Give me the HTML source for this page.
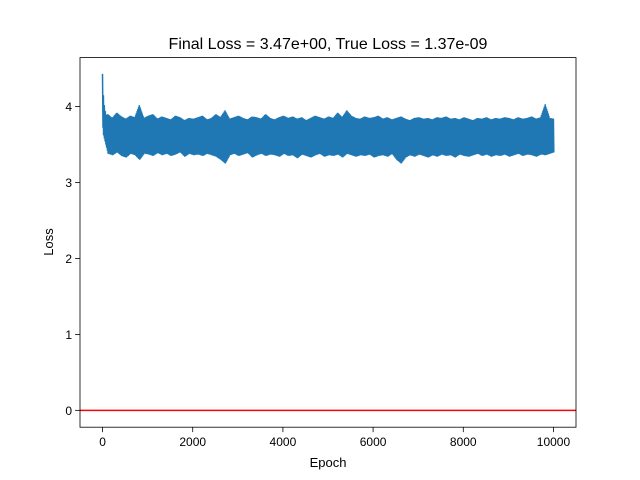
<!DOCTYPE html>
<html><head><meta charset="utf-8"><style>
body{margin:0;background:#fff;}
svg{display:block;font-family:"Liberation Sans","DejaVu Sans",sans-serif;}
</style></head><body>
<svg id="chart" width="640" height="480">
<rect width="640" height="480" fill="#fff"/>
<text x="328" y="49" font-size="16" text-anchor="middle">Final Loss = 3.47e+00, True Loss = 1.37e-09</text>
<g id="plot"></g>
<rect x="80" y="57.6" width="496" height="369.6" fill="none" stroke="#000" stroke-width="0.8"/>
<g id="axes"></g>
<text x="328" y="467" font-size="13" text-anchor="middle">Epoch</text>
<text transform="translate(53,242) rotate(-90)" font-size="13" text-anchor="middle">Loss</text>
</svg>
<script>
const startValues = [4.43, 3.72, 4.15, 3.62, 4.02, 3.58, 3.92];
const highs = [3.88,3.9,3.85,3.92,3.87,3.84,3.88,3.86,4.02,3.85,3.88,3.9,3.84,3.87,3.85,3.83,3.88,3.86,3.82,3.85,3.84,3.86,3.88,3.83,3.85,3.9,3.86,3.95,3.84,3.86,3.88,3.85,3.83,3.87,3.86,3.84,3.9,3.85,3.83,3.86,3.88,3.85,3.87,3.84,3.86,3.82,3.85,3.88,3.86,3.84,3.87,3.85,3.92,3.86,3.95,3.88,3.85,3.84,3.87,3.85,3.86,3.88,3.84,3.86,3.83,3.85,3.87,3.84,3.82,3.85,3.86,3.84,3.85,3.83,3.86,3.85,3.87,3.84,3.85,3.83,3.86,3.84,3.82,3.85,3.84,3.86,3.83,3.85,3.84,3.86,3.85,3.83,3.86,3.84,3.85,3.87,3.84,3.86,4.03,3.85,3.84];
const lows = [3.62,3.38,3.36,3.4,3.35,3.33,3.38,3.36,3.3,3.38,3.37,3.35,3.39,3.36,3.38,3.35,3.37,3.4,3.34,3.38,3.36,3.37,3.35,3.38,3.36,3.34,3.3,3.25,3.36,3.38,3.35,3.37,3.39,3.33,3.36,3.38,3.35,3.37,3.36,3.34,3.38,3.35,3.36,3.32,3.37,3.35,3.33,3.36,3.38,3.34,3.36,3.35,3.37,3.33,3.38,3.36,3.34,3.36,3.35,3.37,3.33,3.35,3.36,3.34,3.38,3.3,3.25,3.33,3.36,3.34,3.37,3.35,3.33,3.36,3.34,3.37,3.35,3.36,3.33,3.37,3.35,3.34,3.36,3.38,3.35,3.37,3.34,3.36,3.35,3.37,3.34,3.36,3.38,3.35,3.37,3.36,3.34,3.37,3.36,3.38,3.4];
const xTicks = [0,2000,4000,6000,8000,10000];
const yTicks = [0,1,2,3,4];
const trueLoss = 0;

const X0=80,X1=576,Y0=427.2,Y1=57.6;
const xmin=-500,xmax=10500,ymin=-0.222,ymax=4.645;
const sx=v=>X0+(v-xmin)/(xmax-xmin)*(X1-X0);
const sy=v=>Y0-(v-ymin)/(ymax-ymin)*(Y0-Y1);
const NS="http://www.w3.org/2000/svg";
const plot=document.getElementById('plot'), axes=document.getElementById('axes');

let pts=[];
startValues.forEach((v,i)=>pts.push([i*10,v]));
for(let i=1;i<highs.length;i++){
  const e=i*100;
  for(let k=0;k<6;k++){
    const f=k/6, ep=e-100+f*100+16;
    const h=highs[i-1]+(highs[i]-highs[i-1])*f, l=lows[i-1]+(lows[i]-lows[i-1])*f;
    pts.push([ep,h]); pts.push([ep+8,l]);
  }
}
pts.push([10000,3.62]);
const line=document.createElementNS(NS,'polyline');
line.setAttribute('points',pts.map(p=>sx(p[0]).toFixed(1)+','+sy(p[1]).toFixed(1)).join(' '));
line.setAttribute('fill','none');line.setAttribute('stroke','#1f77b4');line.setAttribute('stroke-width','1.5');


plot.appendChild(line);

const red=document.createElementNS(NS,'line');
red.setAttribute('x1',X0);red.setAttribute('x2',X1);red.setAttribute('y1',sy(trueLoss));red.setAttribute('y2',sy(trueLoss));
red.setAttribute('stroke','#ff0000');red.setAttribute('stroke-width','1.5');


plot.appendChild(red);

xTicks.forEach(t=>{
  const x=sx(t);
  const l=document.createElementNS(NS,'line');
  l.setAttribute('x1',x);l.setAttribute('x2',x);l.setAttribute('y1',Y0);l.setAttribute('y2',Y0+4.9);l.setAttribute('stroke','#000');l.setAttribute('stroke-width','0.8');
  
  
  axes.appendChild(l);
  const tx=document.createElementNS(NS,'text');
  tx.setAttribute('x',x);tx.setAttribute('y',Y0+19);tx.setAttribute('font-size','12');tx.setAttribute('text-anchor','middle');
  tx.textContent=t;
  
  
  axes.appendChild(tx);
});
yTicks.forEach(t=>{
  const y=sy(t);
  const l=document.createElementNS(NS,'line');
  l.setAttribute('x1',X0-4.9);l.setAttribute('x2',X0);l.setAttribute('y1',y);l.setAttribute('y2',y);l.setAttribute('stroke','#000');l.setAttribute('stroke-width','0.8');
  
  
  axes.appendChild(l);
  const tx=document.createElementNS(NS,'text');
  tx.setAttribute('x',X0-8);tx.setAttribute('y',y+4.5);tx.setAttribute('font-size','12');tx.setAttribute('text-anchor','end');
  tx.textContent=t;
  
  
  axes.appendChild(tx);
});
</script>
</body></html>
